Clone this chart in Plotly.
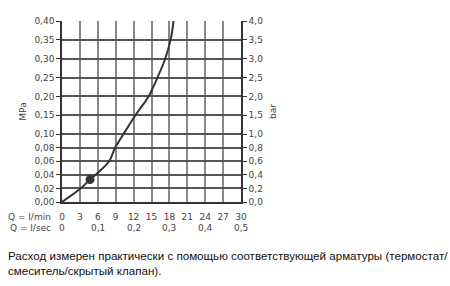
import numpy as np
import plotly.graph_objects as go

# ---- data ----
flow_lpm = [0, 3, 4.7, 6, 7.9, 8.9, 10.3, 12.3, 14.5, 16.0, 17.3, 18.2, 18.7]
press_mpa = [0.0, 0.019, 0.033, 0.043, 0.06, 0.08, 0.10, 0.15, 0.20, 0.25, 0.30, 0.35, 0.40]
marker_lpm = [4.7]
marker_mpa = [0.033]

mpa_ticks = [0.0, 0.02, 0.04, 0.06, 0.08, 0.10, 0.15, 0.20, 0.25, 0.30, 0.35, 0.40]
mpa_labels = ["0,00", "0,02", "0,04", "0,06", "0,08", "0,10", "0,15", "0,20", "0,25", "0,30", "0,35", "0,40"]
bar_labels = ["0,0", "0,2", "0,4", "0,6", "0,8", "1,0", "1,5", "2,0", "2,5", "3,0", "3,5", "4,0"]
lpm_ticks = [0, 3, 6, 9, 12, 15, 18, 21, 24, 27, 30]
lps_vals = [0, 0.1, 0.2, 0.3, 0.4, 0.5]
lps_labels = ["0", "0,1", "0,2", "0,3", "0,4", "0,5"]

note = ("Расход измерен практически с помощью соответствующей арматуры (термостат/<br>"
        "смеситель/скрытый клапан).")

# ---- non-linear pressure scale (lower segment compressed) ----
steps = [0.0] + [0.72 if v <= 0.10 + 1e-9 else 1.0 for v in mpa_ticks[1:]]
tick_pos = list(np.cumsum(steps))


def ymap(vals):
    return list(np.interp(vals, mpa_ticks, tick_pos))


tickfont = dict(family="DejaVu Sans", size=9, color="#444")
line_col = "#333"

fig = go.Figure()
fig.add_trace(go.Scatter(x=flow_lpm, y=ymap(press_mpa), mode="lines",
                         line=dict(color=line_col, width=2, shape="spline", smoothing=1.0),
                         showlegend=False, hoverinfo="skip"))
fig.add_trace(go.Scatter(x=marker_lpm, y=ymap(marker_mpa), mode="markers",
                         marker=dict(color=line_col, size=9),
                         showlegend=False, hoverinfo="skip"))
# dummy trace for right axis
fig.add_trace(go.Scatter(x=[None], y=[None], yaxis="y2", showlegend=False))

fig.update_layout(
    width=450, height=286,
    margin=dict(l=62, r=209, t=21, b=84),
    paper_bgcolor="white", plot_bgcolor="white",
    xaxis=dict(range=[0, 30], tickvals=lpm_ticks, ticktext=[str(v) for v in lpm_ticks],
               showgrid=True, gridcolor="#888", gridwidth=1.5,
               showline=True, linecolor="#333", linewidth=1.5,
               ticks="outside", ticklen=5, tickcolor="rgba(0,0,0,0)",
               tickfont=tickfont, zeroline=False, fixedrange=True),
    yaxis=dict(range=[0, tick_pos[-1]], tickvals=tick_pos, ticktext=mpa_labels,
               showgrid=True, gridcolor="#555", gridwidth=1.5,
               showline=True, linecolor="#333", linewidth=1.5,
               ticks="outside", ticklen=4, tickcolor="#333",
               tickfont=tickfont, zeroline=False,
               title=dict(text="MPa", font=dict(family="DejaVu Sans", size=9, color="#444"), standoff=6)),
    yaxis2=dict(range=[0, tick_pos[-1]], tickvals=tick_pos, ticktext=bar_labels,
                overlaying="y", side="right", showgrid=False,
                showline=True, linecolor="#333", linewidth=1.5,
                ticks="outside", ticklen=4, tickcolor="#333",
                tickfont=tickfont, zeroline=False,
                title=dict(text="bar", font=dict(family="DejaVu Sans", size=9, color="#444"), standoff=8)),
)

ann_font = dict(family="DejaVu Sans", size=9, color="#444")
fig.add_annotation(text="Q = l/min", xref="x", x=0, xanchor="right", xshift=-9,
                   yref="paper", y=0, yanchor="middle", yshift=-15, showarrow=False, font=ann_font)
fig.add_annotation(text="Q = l/sec", xref="x", x=0, xanchor="right", xshift=-9,
                   yref="paper", y=0, yanchor="middle", yshift=-26, showarrow=False, font=ann_font)
for v, t in zip(lps_vals, lps_labels):
    fig.add_annotation(text=t, xref="x", x=v * 60, xanchor="center",
                       yref="paper", y=0, yanchor="middle", yshift=-26, showarrow=False, font=ann_font)

fig.add_annotation(text=note, xref="paper", x=0, xshift=-56, xanchor="left", align="left",
                   yref="paper", y=0, yanchor="middle", yshift=-61, showarrow=False,
                   font=dict(family="Liberation Sans", size=11.6, color="#111"))

fig.write_html("out.html")
